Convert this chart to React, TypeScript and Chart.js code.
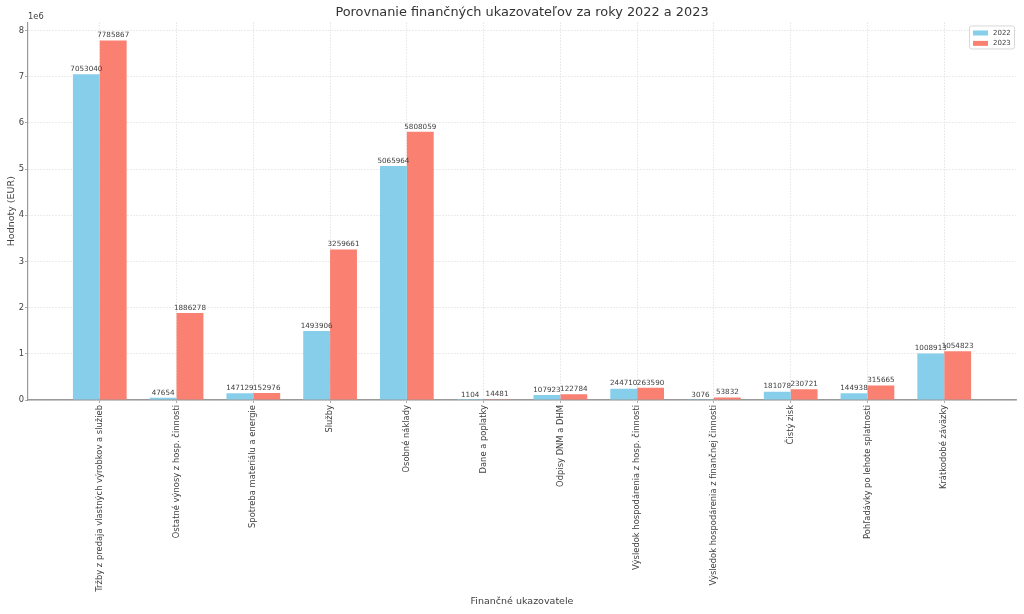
import React, { useEffect, useRef } from "react";
import { Chart, registerables } from "chart.js";

Chart.register(...registerables);

const categories: string[] = [
  "Tržby z predaja vlastných výrobkov a služieb",
  "Ostatné výnosy z hosp. činnosti",
  "Spotreba materiálu a energie",
  "Služby",
  "Osobné náklady",
  "Dane a poplatky",
  "Odpisy DNM a DHM",
  "Výsledok hospodárenia z hosp. činnosti",
  "Výsledok hospodárenia z finančnej činnosti",
  "Čistý zisk",
  "Pohľadávky po lehote splatnosti",
  "Krátkodobé záväzky",
];

const values2022: number[] = [
  7053040, 47654, 147129, 1493906, 5065964, 1104, 107923, 244710, 3076, 181078, 144938, 1008913,
];
const values2023: number[] = [
  7785867, 1886278, 152976, 3259661, 5808059, 14481, 122784, 263590, 53832, 230721, 315665, 1054823,
];

const seriesLabels: string[] = ["2022", "2023"];
const seriesColors: string[] = ["#87CEEB", "#FA8072"];

const titleText = "Porovnanie finančných ukazovateľov za roky 2022 a 2023";
const xTitle = "Finančné ukazovatele";
const yTitle = "Hodnoty (EUR)";
const yTickValues: number[] = [0, 1, 2, 3, 4, 5, 6, 7, 8];
const offsetText = "1e6";

const FONT = "'DejaVu Sans', sans-serif";
const TEXT = "#404040";

export default function App() {
  const ref = useRef<HTMLCanvasElement | null>(null);

  useEffect(() => {
    if (!ref.current) return;
    const n = categories.length;
    const barW = 0.35;
    const span = n - 1 + 2 * barW;
    const xMin = -barW - 0.05 * span;
    const xMax = n - 1 + barW + 0.05 * span;
    const allVals = [...values2022, ...values2023];
    const yMax = Math.max(...allVals) * 1.05;

    const labelPlugin = {
      id: "barLabels",
      afterDatasetsDraw(chart: any) {
        const ctx = chart.ctx;
        ctx.save();
        ctx.font = `7.2px ${FONT}`;
        ctx.fillStyle = TEXT;
        ctx.textAlign = "center";
        ctx.textBaseline = "bottom";
        chart.data.datasets.forEach((ds: any, di: number) => {
          const meta = chart.getDatasetMeta(di);
          meta.data.forEach((el: any, i: number) => {
            const v = ds.data[i].y;
            ctx.fillText(String(v), el.x, el.y - 1.5);
          });
        });
        ctx.restore();
      },
    };

    const extrasPlugin = {
      id: "extras",
      afterDraw(chart: any) {
        const ctx = chart.ctx;
        const area = chart.chartArea;
        ctx.save();
        ctx.font = `8.3px ${FONT}`;
        ctx.fillStyle = TEXT;
        ctx.textAlign = "left";
        ctx.textBaseline = "bottom";
        ctx.fillText(offsetText, area.left, area.top - 1);
        const bx = area.right - 47;
        const by = area.top + 3;
        const bw = 45;
        const bh = 23;
        ctx.fillStyle = "rgba(255,255,255,0.85)";
        ctx.strokeStyle = "#d8d8d8";
        ctx.lineWidth = 1;
        ctx.beginPath();
        (ctx as any).roundRect ? (ctx as any).roundRect(bx + 0.5, by + 0.5, bw, bh, 2) : ctx.rect(bx + 0.5, by + 0.5, bw, bh);
        ctx.fill();
        ctx.stroke();
        ctx.font = `7px ${FONT}`;
        ctx.textBaseline = "middle";
        chart.data.datasets.forEach((ds: any, i: number) => {
          const cy = by + 7.5 + i * 10.4;
          ctx.fillStyle = ds.backgroundColor;
          ctx.fillRect(bx + 4, cy - 2.5, 15, 5);
          ctx.fillStyle = TEXT;
          ctx.fillText(ds.label, bx + 24, cy + 0.3);
        });
        ctx.restore();
      },
    };

    const chart = new Chart(ref.current, {
      type: "bar",
      data: {
        datasets: seriesLabels.map((lab, si) => ({
          label: lab,
          data: (si === 0 ? values2022 : values2023).map((v, i) => ({ x: i, y: v })),
          backgroundColor: seriesColors[si],
          borderWidth: 0,
          categoryPercentage: 0.7,
          barPercentage: 1.0,
        })),
      },
      options: {
        animation: false,
        responsive: true,
        maintainAspectRatio: false,
        layout: { padding: { left: 0, right: 8, top: 0, bottom: 0 } },
        plugins: {
          legend: { display: false },
          tooltip: { enabled: false },
          title: {
            display: true,
            fullSize: false,
            text: titleText,
            color: "#333333",
            font: { family: FONT, size: 12.9, weight: "normal" },
            padding: { top: 5, bottom: 2 },
          },
        },
        scales: {
          x: {
            type: "linear",
            min: xMin,
            max: xMax,
            offset: false,
            afterBuildTicks: (scale: any) => {
              scale.ticks = categories.map((_, i) => ({ value: i }));
            },
            afterFit: (scale: any) => {
              scale.height = 214;
            },
            ticks: {
              autoSkip: false,
              minRotation: 90,
              maxRotation: 90,
              padding: 2,
              color: TEXT,
              font: { family: FONT, size: 8.4 },
              callback: (_v: any, idx: number) => categories[idx],
            },
            grid: {
              offset: false,
              color: "#dddddd",
              lineWidth: 0.8,
              drawTicks: true,
              tickLength: 3,
              tickColor: "#999999",
              tickBorderDash: [],
            },
            border: { display: true, color: "#999999", width: 1.6, dash: [1.5, 1.5] },
            title: {
              display: true,
              text: xTitle,
              color: TEXT,
              font: { family: FONT, size: 9.5 },
              padding: { top: 0, bottom: 7 },
            },
          },
          y: {
            type: "linear",
            min: 0,
            max: yMax,
            afterBuildTicks: (scale: any) => {
              scale.ticks = yTickValues.map((t) => ({ value: t * 1e6 }));
            },
            afterFit: (scale: any) => {
              scale.width = 28;
            },
            ticks: {
              padding: 1,
              color: TEXT,
              font: { family: FONT, size: 8.4 },
              callback: (v: any) => String(Math.round(Number(v) / 1e6)),
            },
            grid: {
              color: "#dddddd",
              lineWidth: 0.8,
              drawTicks: true,
              tickLength: 3,
              tickColor: "#999999",
              tickBorderDash: [],
            },
            border: { display: true, color: "#999999", width: 1.2, dash: [1.5, 1.5] },
            title: {
              display: true,
              text: yTitle,
              color: TEXT,
              font: { family: FONT, size: 9.5 },
              padding: { top: 6, bottom: 0 },
            },
          },
        },
      } as any,
      plugins: [labelPlugin, extrasPlugin],
    });
    return () => chart.destroy();
  }, []);

  return (
    <div style={{ position: "fixed", left: 0, top: 0, width: "100vw", height: "100vh", background: "#fff" }}>
      <canvas ref={ref} />
    </div>
  );
}
